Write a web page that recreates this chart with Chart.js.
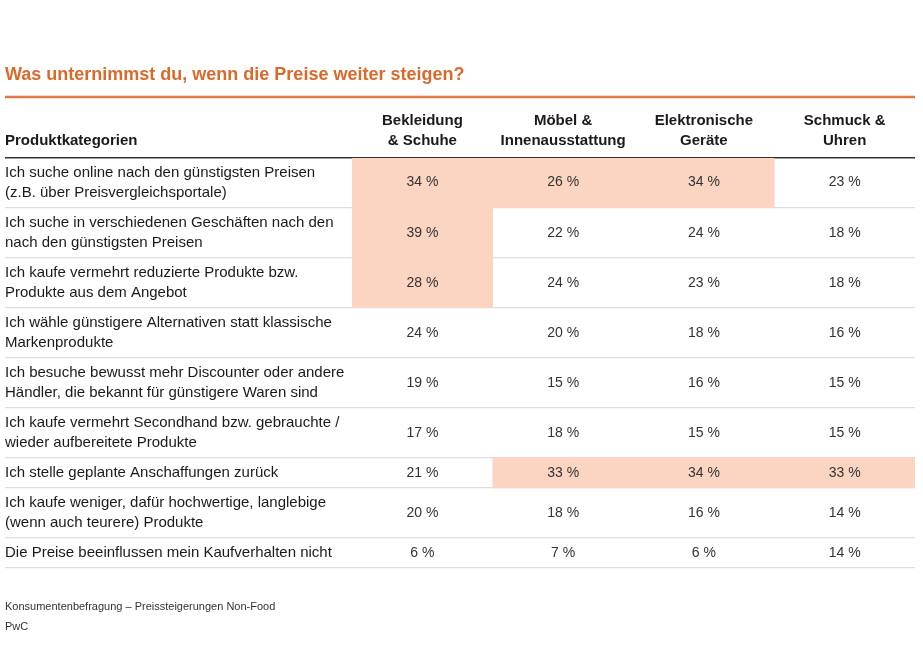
<!DOCTYPE html>
<html>
<head>
<meta charset="utf-8">
<script src="https://cdn.jsdelivr.net/npm/chart.js@4.4.0/dist/chart.umd.min.js"></script>
<style>
  html, body { margin: 0; padding: 0; background: #fff; }
  #wrap { width: 923px; height: 661px; }
</style>
</head>
<body>
<div id="wrap"><canvas id="table"></canvas></div>
<script>
const title = 'Was unternimmst du, wenn die Preise weiter steigen?';
const firstHeader = 'Produktkategorien';
const columns = [
  ['Bekleidung', '& Schuhe'],
  ['Möbel &', 'Innenausstattung'],
  ['Elektronische', 'Geräte'],
  ['Schmuck &', 'Uhren']
];
const rows = [
  ['Ich suche online nach den günstigsten Preisen', '(z.B. über Preisvergleichsportale)'],
  ['Ich suche in verschiedenen Geschäften nach den', 'nach den günstigsten Preisen'],
  ['Ich kaufe vermehrt reduzierte Produkte bzw.', 'Produkte aus dem Angebot'],
  ['Ich wähle günstigere Alternativen statt klassische', 'Markenprodukte'],
  ['Ich besuche bewusst mehr Discounter oder andere', 'Händler, die bekannt für günstigere Waren sind'],
  ['Ich kaufe vermehrt Secondhand bzw. gebrauchte /', 'wieder aufbereitete Produkte'],
  ['Ich stelle geplante Anschaffungen zurück'],
  ['Ich kaufe weniger, dafür hochwertige, langlebige', '(wenn auch teurere) Produkte'],
  ['Die Preise beeinflussen mein Kaufverhalten nicht']
];
const bekleidung = [34, 39, 28, 24, 19, 17, 21, 20, 6];
const moebel     = [26, 22, 24, 20, 15, 18, 33, 18, 7];
const elektronik = [34, 24, 23, 18, 16, 15, 34, 16, 6];
const schmuck    = [23, 18, 18, 16, 15, 15, 33, 14, 14];
// highlighted cells as [row, column]
const highlights = [[0, 0], [0, 1], [0, 2], [1, 0], [2, 0], [6, 1], [6, 2], [6, 3]];
const source = ['Konsumentenbefragung – Preissteigerungen Non-Food', 'PwC'];

const FONT = "'Liberation Sans', Arial, sans-serif";
const ORANGE = '#d96a2b';
const HI = '#fbd4c2';
const values = [bekleidung, moebel, elektronik, schmuck];

// row height follows the number of label lines
const bounds = [0];
rows.forEach((r) => bounds.push(bounds[bounds.length - 1] + r.length * 20 + 10));
const total = bounds[bounds.length - 1];

const isHi = (r, c) => highlights.some((h) => h[0] === r && h[1] === c);

const datasets = rows.map((r, i) => ({
  data: columns.map(() => [bounds[i], bounds[i + 1]]),
  backgroundColor: columns.map((c, j) => isHi(i, j) ? HI : 'rgba(0,0,0,0)'),
  borderWidth: 0
}));

const tableText = {
  id: 'tableText',
  afterDraw(chart) {
    const { ctx, chartArea, scales: { x, y } } = chart;
    ctx.save();
    // rule under the title
    ctx.strokeStyle = '#e07a45';
    ctx.lineWidth = 2.5;
    ctx.beginPath();
    ctx.moveTo(5, 97);
    ctx.lineTo(chartArea.right, 97);
    ctx.stroke();

    ctx.textBaseline = 'middle';
    ctx.fillStyle = '#1a1a1a';
    ctx.font = 'bold 15px ' + FONT;
    ctx.textAlign = 'left';
    ctx.fillText(firstHeader, 5, 141);

    ctx.font = '15px ' + FONT;
    rows.forEach((lines, i) => {
      const yc = y.getPixelForValue((bounds[i] + bounds[i + 1]) / 2);
      lines.forEach((t, k) => {
        ctx.fillText(t, 5, yc + (k - (lines.length - 1) / 2) * 20);
      });
    });

    ctx.font = '14px ' + FONT;
    ctx.textAlign = 'center';
    ctx.fillStyle = '#333';
    values.forEach((col, j) => {
      const xc = x.getPixelForValue(j);
      col.forEach((v, i) => {
        const yc = y.getPixelForValue((bounds[i] + bounds[i + 1]) / 2);
        ctx.fillText(v + ' %', xc, yc);
      });
    });
    ctx.restore();
  }
};

new Chart(document.getElementById('table').getContext('2d'), {
  type: 'bar',
  plugins: [tableText],
  data: { labels: columns, datasets },
  options: {
    responsive: true,
    maintainAspectRatio: false,
    animation: false,
    layout: { padding: { left: 5, right: 8, top: 0, bottom: 10 } },
    datasets: { bar: { grouped: false, barPercentage: 1, categoryPercentage: 1 } },
    plugins: {
      legend: { display: false },
      tooltip: { enabled: false },
      title: {
        display: true,
        text: title,
        align: 'start',
        color: ORANGE,
        font: { family: FONT, size: 18, weight: 'bold' },
        padding: { top: 64, bottom: 18 }
      },
      subtitle: {
        display: true,
        position: 'bottom',
        align: 'start',
        text: source,
        color: '#333',
        font: { family: FONT, size: 11, lineHeight: 20 / 11 },
        padding: { top: 29, bottom: 14 }
      }
    },
    scales: {
      x: {
        position: 'top',
        grid: { display: false, drawTicks: false },
        border: { display: false },
        ticks: {
          color: '#1a1a1a',
          font: { family: FONT, size: 15, weight: 'bold', lineHeight: 20 / 15 },
          padding: 7,
          maxRotation: 0,
          autoSkip: false
        }
      },
      y: {
        reverse: true,
        min: 0,
        max: total,
        afterBuildTicks: (s) => { s.ticks = bounds.map((v) => ({ value: v })); },
        afterFit: (s) => { s.width = 347; },
        ticks: { display: false },
        border: { display: false },
        grid: {
          color: (c) => c.tick && c.tick.value === 0 ? '#333' : '#dedede',
          lineWidth: (c) => c.tick && c.tick.value === 0 ? 1.5 : 1.2,
          drawTicks: true,
          tickLength: 347
        }
      }
    }
  }
});
</script>
</body>
</html>
